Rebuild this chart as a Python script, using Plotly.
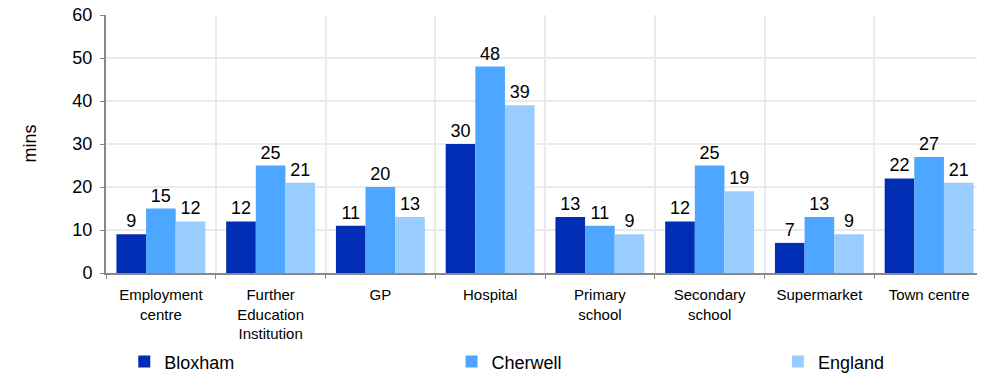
import plotly.graph_objects as go

categories = ["Employment centre", "Further Education Institution", "GP", "Hospital",
              "Primary school", "Secondary school", "Supermarket", "Town centre"]
tick_labels = ["Employment<br>centre", "Further<br>Education<br>Institution", "GP", "Hospital",
               "Primary<br>school", "Secondary<br>school", "Supermarket", "Town centre"]
bloxham = [9, 12, 11, 30, 13, 12, 7, 22]
cherwell = [15, 25, 20, 48, 11, 25, 13, 27]
england = [12, 21, 13, 39, 9, 19, 9, 21]

series = [("Bloxham", bloxham, "#002DB3", "legend"),
          ("Cherwell", cherwell, "#4DA6FF", "legend2"),
          ("England", england, "#99CCFF", "legend3")]

fig = go.Figure()
for name, vals, col, leg in series:
    fig.add_trace(go.Bar(
        x=categories,
        y=vals,
        name=name,
        legend=leg,
        marker=dict(color=col, line=dict(width=0)),
        text=vals,
        textposition="outside",
        textfont=dict(size=18, color="black"),
        cliponaxis=False
    ))

def legend_at(x):
    return dict(
        orientation="h",
        x=x,
        xref="container",
        y=0.033,
        yref="container",
        xanchor="left",
        yanchor="middle",
        bgcolor="rgba(0,0,0,0)",
        font=dict(size=18),
        itemsizing="constant"
    )

# page body adds an 8px margin, so the figure is sized 977x366
fig.update_layout(
    width=977,
    height=366,
    paper_bgcolor="white",
    plot_bgcolor="white",
    font=dict(family="Liberation Sans, Arial", size=15, color="black"),
    margin=dict(l=98, r=1, t=7, b=101, autoexpand=False),
    barmode="group",
    bargap=0.19,
    bargroupgap=0,
    showlegend=True,
    legend=legend_at(0.119),
    legend2=legend_at(0.454),
    legend3=legend_at(0.788),
    annotations=[dict(
        text="mins", textangle=-90, x=-0.087, xref="paper", xanchor="center",
        y=0.5, yref="paper", showarrow=False, font=dict(size=18)
    )],
    xaxis=dict(
        tickmode="array",
        tickvals=categories,
        ticktext=tick_labels,
        tickson="boundaries",
        showgrid=True,
        gridcolor="#EBEBEB",
        gridwidth=2,
        showline=True,
        linecolor="#888888",
        linewidth=2,
        ticks="outside",
        ticklen=4,
        tickcolor="#888888",
        ticklabelstandoff=7,
        ticklabeloverflow="allow",
        tickfont=dict(size=15),
        automargin=False
    ),
    yaxis=dict(
        range=[0, 60],
        dtick=10,
        showgrid=True,
        gridcolor="#EBEBEB",
        gridwidth=2,
        showline=True,
        linecolor="#888888",
        linewidth=2,
        ticks="outside",
        ticklen=4,
        tickcolor="#888888",
        ticklabelstandoff=4,
        ticklabeloverflow="allow",
        tickfont=dict(size=18),
        zeroline=False,
        automargin=False
    )
)

fig.write_html("out.html")
